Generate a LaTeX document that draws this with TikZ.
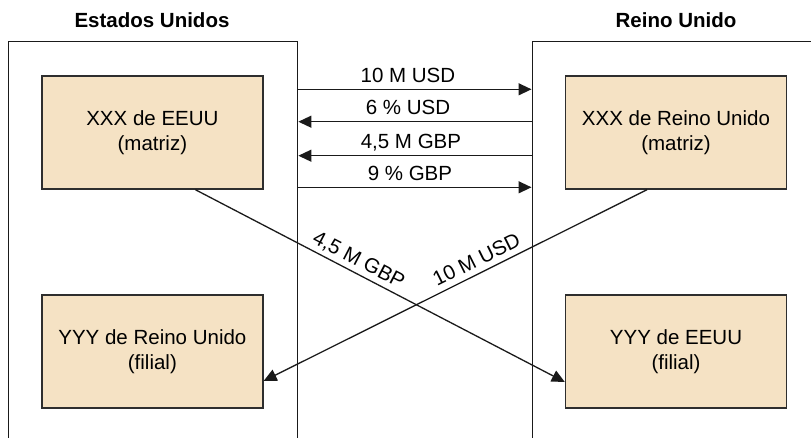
\documentclass[tikz,border=0pt]{standalone}
\usepackage{fontspec}
\setmainfont{Liberation Sans}
\usetikzlibrary{arrows.meta,calc}
\definecolor{boxfill}{HTML}{F5E2C4}
\definecolor{ink}{HTML}{1A1A1A}
\definecolor{edge}{HTML}{2E2E2E}

\begin{document}
\begin{tikzpicture}[x=1pt,y=1pt,
  region/.style={draw=ink, line width=1.4pt, inner sep=0pt, anchor=north west},
  entity/.style={draw=edge, line width=1.4pt, fill=boxfill, minimum width=221pt,
    minimum height=113pt, align=center, inner sep=0pt,
    font=\fontsize{20.5}{24.5}\selectfont,
    execute at begin node={\rule{0pt}{20pt}}},
  flow/.style={draw=ink, line width=1.3pt, -{Triangle[length=13pt,width=12pt]}},
  lbl/.style={font=\fontsize{20.5}{24.5}\selectfont, inner sep=0pt, anchor=base},
  heading/.style={font=\bfseries\fontsize{20.5}{24.5}\selectfont, inner sep=0pt, anchor=base}
]
\useasboundingbox (0,0) rectangle (811,-437);
\clip (0,0) rectangle (811,-437);

% country regions (open towards the bottom / right edge)
\node[region, minimum width=289.5pt, minimum height=430pt] (us) at (7.5,-41) {};
\node[region, minimum width=300pt, minimum height=430pt] (uk) at (531.5,-41) {};

% headings
\node[heading] (ust) at (152,-27.3) {Estados Unidos};
\node[heading] (ukt) at (676,-27.3) {Reino Unido};

% companies
\node[entity] (xa) at (152.4,-132.5) {XXX de EEUU\\(matriz)};
\node[entity] (xb) at (676,-132.5) {XXX de Reino Unido\\(matriz)};
\node[entity] (ya) at (152.4,-351.5) {YYY de Reino Unido\\(filial)};
\node[entity] (yb) at (676,-351.5) {YYY de EEUU\\(filial)};

% flows between the parent companies
\draw[flow] ([yshift=-48.3pt]us.north east) -- node[lbl, xshift=-7pt, yshift=7pt] {10 M USD} ([yshift=-48.3pt]uk.north west);
\draw[flow] ([yshift=-80.7pt]uk.north west) -- node[lbl, xshift=-7pt, yshift=7pt] {6 \% USD} ([yshift=-80.7pt]us.north east);
\draw[flow] ([yshift=-114.7pt]uk.north west) -- node[lbl, xshift=-4pt, yshift=7pt] {4,5 M GBP} ([yshift=-114.7pt]us.north east);
\draw[flow] ([yshift=-146.3pt]us.north east) -- node[lbl, xshift=-5pt, yshift=7pt] {9 \% GBP} ([yshift=-146.3pt]uk.north west);

% cross loans to the subsidiaries
\draw[flow] ([xshift=43pt]xa.south) -- node[lbl, sloped, pos=0.426, yshift=6.7pt] {4,5 M GBP} ([yshift=-30.5pt]yb.west);
\draw[flow] ([xshift=-29pt]xb.south) -- node[lbl, sloped, pos=0.429, yshift=6.7pt] {10 M USD} ([yshift=-29.5pt]ya.east);
\end{tikzpicture}
\end{document}
